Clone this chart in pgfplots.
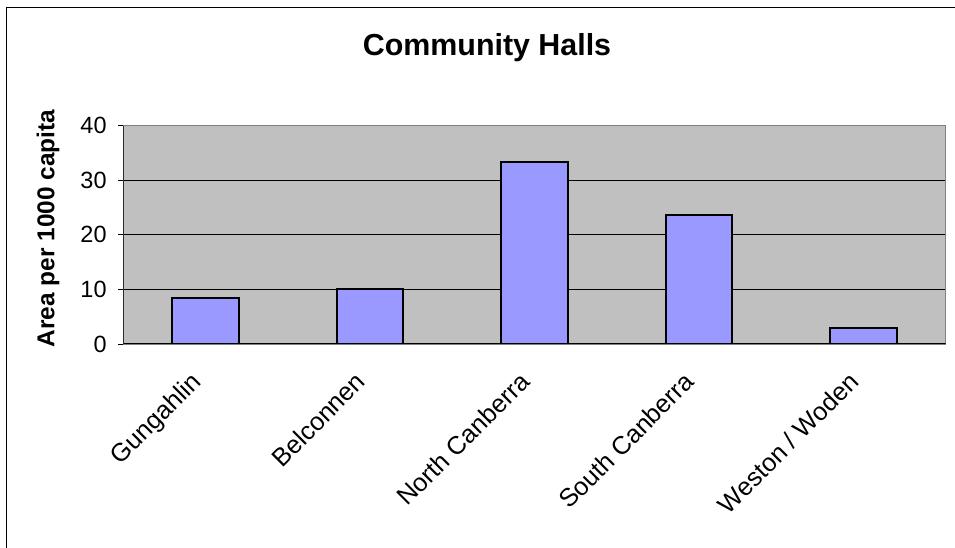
\documentclass[border=0pt]{standalone}
\usepackage{fontspec}
\setmainfont{Liberation Sans}
\usepackage{pgfplots}
\pgfplotsset{compat=1.18}
\definecolor{plotgray}{HTML}{C0C0C0}
\definecolor{barblue}{HTML}{9999FF}
\begin{document}
\begin{tikzpicture}
\path[use as bounding box] (0pt,0pt) rectangle (716.25pt,411pt);
% chart frame (left and top edges)
\draw[line width=1.1pt,black] (4.875pt,0pt) -- (4.875pt,405.4pt) -- (716.25pt,405.4pt);
% title
\node[anchor=base,inner sep=0pt,font=\bfseries\fontsize{22.8}{26}\selectfont] at (365.25pt,369pt) {Community Halls};
% y axis label
\node[rotate=90,inner sep=0pt,font=\bfseries\fontsize{18.3}{22}\selectfont] at (36pt,239.6pt) {Area per 1000 capita};
\begin{axis}[
  at={(92.475pt,153pt)}, anchor=south west,
  scale only axis, width=616.8pt, height=163.7pt,
  ymin=0, ymax=40, ytick={0,10,20,30,40},
  xmin=-0.5, xmax=4.5,
  xtick={0,1,2,3,4},
  xticklabels={Gungahlin,Belconnen,North Canberra,South Canberra,Weston / Woden},
  major x tick style={draw=none},
  extra x ticks={-0.5,0.5,1.5,2.5,3.5,4.5},
  extra x tick labels={},
  extra x tick style={major tick length=4pt, tick style={black,line width=0.6pt}, grid=none},
  tick align=outside,
  major tick length=4pt,
  tick style={black,line width=0.6pt},
  xtick pos=bottom, ytick pos=left,
  ymajorgrids, major grid style={black,line width=0.6pt},
  axis background/.style={fill=plotgray},
  axis line style={draw=gray,line width=0.8pt},
  /pgf/number format/assume math mode=true,
  yticklabel style={font=\fontsize{17.6}{20}\selectfont,xshift=-5pt},
  xticklabel style={font=\fontsize{19}{22}\selectfont,rotate=45,anchor=north east,inner sep=0pt,xshift=-19.6pt,yshift=-2.5pt},
  ybar, bar width=0.405,
]
\addplot[fill=barblue,draw=black,line width=1.4pt] coordinates {
  (0,8.4) (1,10.1) (2,33.4) (3,23.6) (4,2.9)
};
\draw[black,line width=0.8pt] (rel axis cs:0,1) -- (rel axis cs:0,0) -- (rel axis cs:1,0);
\end{axis}
\end{tikzpicture}
\end{document}
